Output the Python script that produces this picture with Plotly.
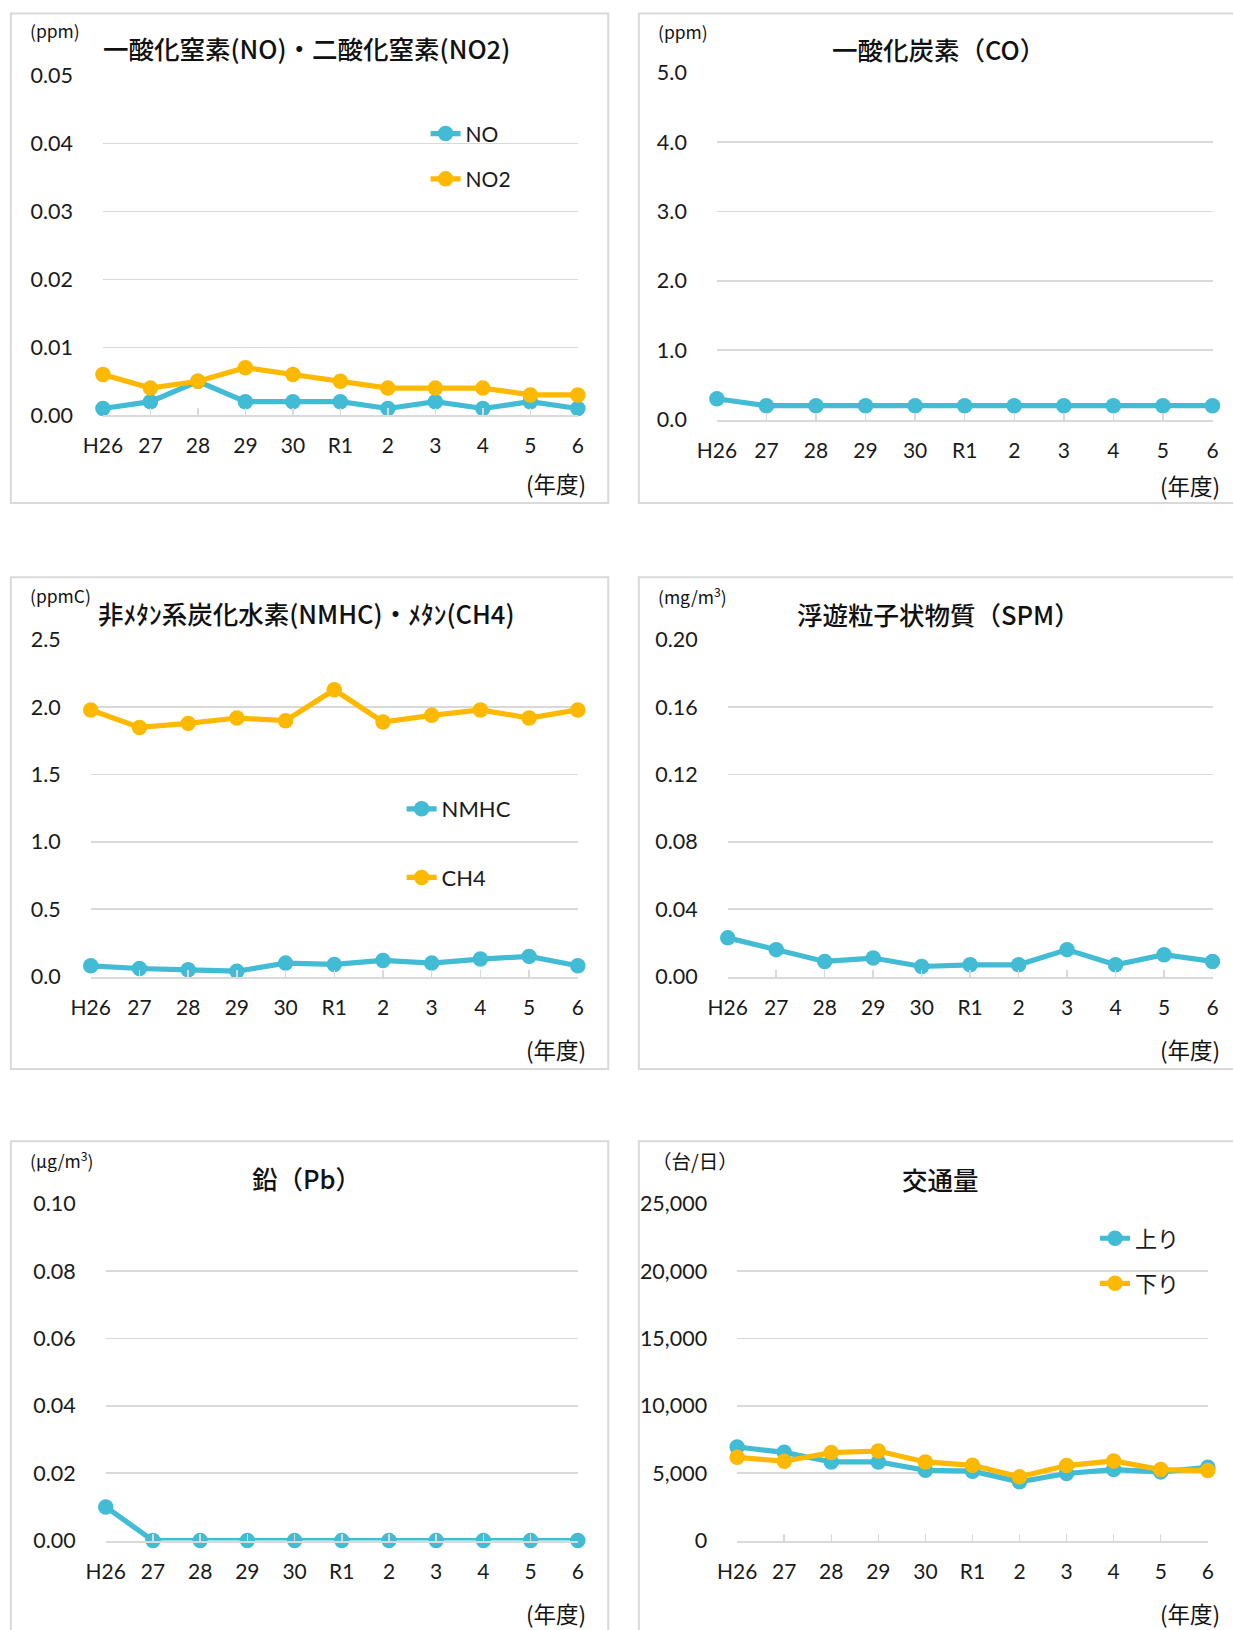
import plotly.graph_objects as go

# ---------------- data ----------------
years = ["H26", "27", "28", "29", "30", "R1", "2", "3", "4", "5", "6"]

no_vals = [0.001, 0.002, 0.005, 0.002, 0.002, 0.002, 0.001, 0.002, 0.001, 0.002, 0.001]
no2_vals = [0.006, 0.004, 0.005, 0.007, 0.006, 0.005, 0.004, 0.004, 0.004, 0.003, 0.003]
co_vals = [0.3, 0.2, 0.2, 0.2, 0.2, 0.2, 0.2, 0.2, 0.2, 0.2, 0.2]
nmhc_vals = [0.08, 0.06, 0.05, 0.04, 0.10, 0.09, 0.12, 0.10, 0.13, 0.15, 0.08]
ch4_vals = [1.98, 1.85, 1.88, 1.92, 1.90, 2.13, 1.89, 1.94, 1.98, 1.92, 1.98]
spm_vals = [0.023, 0.016, 0.009, 0.011, 0.006, 0.007, 0.007, 0.016, 0.007, 0.013, 0.009]
pb_vals = [0.01, 0, 0, 0, 0, 0, 0, 0, 0, 0, 0]
up_vals = [6950, 6550, 5840, 5840, 5220, 5150, 4360, 4980, 5270, 5100, 5440]
down_vals = [6180, 5890, 6530, 6650, 5840, 5590, 4730, 5570, 5910, 5270, 5200]

titles = ["一酸化窒素(NO)・二酸化窒素(NO2)", "一酸化炭素（CO）",
          "非ﾒﾀﾝ系炭化水素(NMHC)・ﾒﾀﾝ(CH4)", "浮遊粒子状物質（SPM）",
          "鉛（Pb）", "交通量"]
units = ["(ppm)", "(ppm)", "(ppmC)", "(mg/m<sup>3</sup>)", "(μg/m<sup>3</sup>)", "（台/日）"]
year_label = "(年度)"

# ---------------- styling ----------------
W, H = 1255, 1650
CYAN = "#42BBD5"
GOLD = "#FDB900"
GRID = "#D9D9D9"
NUMFONT = "Lato, 'Noto Sans CJK JP', sans-serif"
JPFONT = "'Noto Sans CJK JP', sans-serif"

# the photographed page shows the figure slightly reduced and offset;
# positions below are given in picture pixels and converted here
SHIFT = 10
AX, SX = 17.5 - 0.981 * SHIFT, 0.981
AY, SY = 12.0, 0.986


def px_x(v):
    return max((v - AX) / SX, 0.5) / W


def px_y(v):
    return 1 - max((v - AY) / SY, 0.5) / H


boxes = [
    (100.8, 576.5, 74.7, 415.0),
    (715.8, 1212.3, 71.7, 419.3),
    (88.6, 576.5, 640.0, 977.3),
    (726.7, 1212.3, 640.0, 977.3),
    (103.6, 576.5, 1205.0, 1542.3),
    (736.1, 1207.6, 1205.0, 1542.3),
]
yranges = [(0, 0.05, 0.01, ".2f"), (0, 5, 1, ".1f"), (0, 2.5, 0.5, ".1f"),
           (0, 0.2, 0.04, ".2f"), (0, 0.1, 0.02, ".2f"), (0, 25000, 5000, ",d")]

frames = [
    (8.5, 607, 12.5, 503), (637.6, 1260, 12.5, 503),
    (8.5, 607, 577.3, 1070), (637.6, 1260, 577.3, 1070),
    (8.5, 607, 1142.3, 1700), (637.6, 1260, 1142.3, 1700),
]
title_pos = [(305, 47), (938, 48), (304, 612.5), (938, 613.5), (305, 1179), (940, 1179.5)]
unit_pos = [(26, 30), (655, 30.5), (26, 596), (655, 596), (26, 1161), (649, 1161.5)]
unit_size = [17.5, 17.5, 17.5, 17.5, 17.5, 19.5]
year_pos = [(587, 483), (1222, 485), (587, 1049.7), (1222, 1049.7), (587, 1614.7), (1222, 1614.7)]

fig = go.Figure()

series = [
    [("NO", no_vals, CYAN), ("NO2", no2_vals, GOLD)],
    [("CO", co_vals, CYAN)],
    [("NMHC", nmhc_vals, CYAN), ("CH4", ch4_vals, GOLD)],
    [("SPM", spm_vals, CYAN)],
    [("Pb", pb_vals, CYAN)],
    [("上り", up_vals, CYAN), ("下り", down_vals, GOLD)],
]
legend_names = {0: "legend", 2: "legend2", 5: "legend3"}

for i, group in enumerate(series):
    ax = "" if i == 0 else str(i + 1)
    for j, (name, vals, col) in enumerate(group):
        fig.add_trace(go.Scatter(
            x=years, y=vals, name=name, mode="lines+markers",
            line=dict(color=col, width=5.2),
            marker=dict(color=col, size=15.5),
            xaxis="x" + ax, yaxis="y" + ax,
            cliponaxis=False,
            showlegend=i in legend_names,
            legend=legend_names.get(i, "legend"),
            legendgroup=f"g{i}_{j}",
        ))

layout = dict(
    width=W, height=H, autosize=False,
    margin=dict(l=0, r=0, t=0, b=0, pad=0),
    paper_bgcolor="white", plot_bgcolor="white",
    font=dict(family=NUMFONT, size=20, color="#1a1a1a"),
    shapes=[], annotations=[],
)

for i, (l, r, t, b) in enumerate(boxes):
    ax = "" if i == 0 else str(i + 1)
    y0, y1, dt, fmt = yranges[i]
    layout["xaxis" + ax] = dict(
        domain=[px_x(l), px_x(r)], anchor="y" + ax, type="category",
        range=[0, 10], showgrid=False, zeroline=False,
        showline=True, linecolor=GRID, linewidth=2,
        ticks="inside", ticklen=7, tickwidth=1.5, tickcolor=GRID,
        ticklabelstandoff=11,
        tickfont=dict(size=21, family=NUMFONT, color="#1a1a1a"),
        fixedrange=True,
    )
    layout["yaxis" + ax] = dict(
        domain=[px_y(b), px_y(t)], anchor="x" + ax,
        range=[y0, y1], dtick=dt, tick0=0, tickformat=fmt,
        showgrid=True, gridcolor=GRID, gridwidth=1.6,
        zeroline=False, showline=False, ticks="",
        ticklabelstandoff=29,
        tickfont=dict(size=21.5, family=NUMFONT, color="#1a1a1a"),
        fixedrange=True,
    )
    fl, fr, ft, fb = frames[i]
    layout["shapes"].append(dict(
        type="rect", xref="paper", yref="paper",
        x0=px_x(fl), x1=px_x(fr), y0=px_y(fb), y1=px_y(ft),
        line=dict(color=GRID, width=2), fillcolor="rgba(0,0,0,0)", layer="below",
    ))
    tx, ty = title_pos[i]
    layout["annotations"].append(dict(
        text=titles[i], x=px_x(tx), y=px_y(ty), xref="paper", yref="paper",
        xanchor="center", yanchor="middle", showarrow=False,
        font=dict(family=JPFONT, size=25.5, color="#111111", weight=500),
    ))
    ux, uy = unit_pos[i]
    layout["annotations"].append(dict(
        text=units[i], x=px_x(ux), y=px_y(uy), xref="paper", yref="paper",
        xanchor="left", yanchor="middle", showarrow=False,
        font=dict(family=JPFONT, size=unit_size[i], color="#111111"),
    ))
    yx, yy = year_pos[i]
    layout["annotations"].append(dict(
        text=year_label, x=px_x(yx), y=px_y(yy), xref="paper", yref="paper",
        xanchor="right", yanchor="middle", showarrow=False,
        font=dict(family=JPFONT, size=22.5, color="#111111"),
    ))


def legend_cfg(xpx, ytop, gap, size):
    return dict(
        x=px_x(xpx), y=px_y(ytop), xanchor="left", yanchor="top",
        bgcolor="rgba(0,0,0,0)", borderwidth=0,
        font=dict(family=NUMFONT, size=size, color="#1a1a1a"),
        tracegroupgap=gap, itemclick=False, itemdoubleclick=False,
    )


layout["legend"] = legend_cfg(424, 112.6, 15, 21)
layout["legend2"] = legend_cfg(400, 788.4, 37, 22)
layout["legend3"] = legend_cfg(1094.6, 1218.6, 13.5, 22)

fig.update_layout(**layout)

fig.write_html("out.html", config={"displayModeBar": False, "staticPlot": True},
               post_script="document.body.style.margin='0 0 0 -%dpx';"
                           "document.body.style.overflow='hidden';" % SHIFT)
